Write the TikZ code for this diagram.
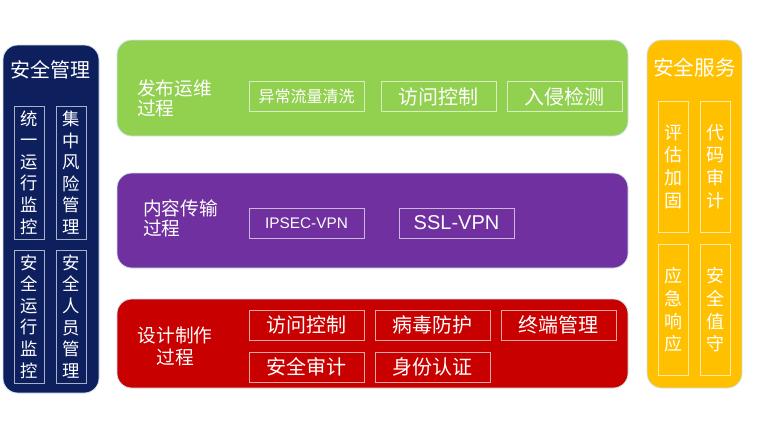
\documentclass[tikz,border=0pt]{standalone}
\usepackage{fontspec}
\setmainfont{Noto Sans CJK SC}
\newfontfamily\latinfont{Liberation Sans}

\definecolor{navy}{RGB}{14,31,94}
\definecolor{leaf}{RGB}{146,208,80}
\definecolor{plum}{RGB}{112,48,160}
\definecolor{brick}{RGB}{200,0,0}
\definecolor{gold}{RGB}{255,192,0}
\definecolor{rim}{RGB}{205,228,238}

\begin{document}
\begin{tikzpicture}[x=0.75pt,y=-0.75pt,
	panel/.style={rounded corners=11pt, draw=rim, line width=0.6pt},
	hcell/.style={draw=white, draw opacity=0.65, line width=0.6pt, text=white, minimum width=86.25pt, minimum height=22.5pt, inner sep=0pt},
	vcell/.style={draw=white, draw opacity=0.65, line width=0.6pt, text=white, minimum width=22.5pt, inner sep=0pt, align=center},
	title/.style={text=white, inner sep=0pt}]
		\useasboundingbox (0,0) rectangle (758,430);
		
		\fill[panel, fill=navy] (3,45) rectangle (99,393);  % 安全管理
		\node[title, font=\fontsize{15}{18}\selectfont] (mgmt) at (51,70) {安全管理};
		\node[vcell, minimum height=99.75pt, font=\fontsize{13}{16.2}\selectfont] (m1) at (29,172.5) {统\\一\\运\\行\\监\\控};
		\node[vcell, minimum height=99.75pt, font=\fontsize{13}{16.2}\selectfont] (m2) at (71.5,172.5) {集\\中\\风\\险\\管\\理};
		\node[vcell, minimum height=99.75pt, font=\fontsize{13}{16.2}\selectfont] (m3) at (29,316.5) {安\\全\\运\\行\\监\\控};
		\node[vcell, minimum height=99.75pt, font=\fontsize{13}{16.2}\selectfont] (m4) at (71.5,316.5) {安\\全\\人\\员\\管\\理};
		
		\fill[panel, fill=leaf] (117,40) rectangle (628,136);  % 发布运维
		\node[title, anchor=west, align=left, font=\fontsize{14}{15}\selectfont] (ops) at (137,98) {发布运维\\过程};
		\node[hcell, font=\fontsize{12}{14}\selectfont] (o1) at (306.5,96.5) {异常流量清洗};
		\node[hcell, font=\fontsize{15}{18}\selectfont] (o2) at (438.5,96.5) {访问控制};
		\node[hcell, font=\fontsize{15}{18}\selectfont] (o3) at (564.5,96.5) {入侵检测};
		
		\fill[panel, fill=plum] (117,173) rectangle (628,268);  % 内容传输
		\node[title, anchor=west, align=left, font=\fontsize{14}{15}\selectfont] (trans) at (143,218) {内容传输\\过程};
		\node[hcell, font=\latinfont\fontsize{11.5}{14}\selectfont] (t1) at (306.5,223) {IPSEC-VPN};
		\node[hcell, font=\latinfont\fontsize{15}{18}\selectfont] (t2) at (456.5,223) {SSL-VPN};
		
		\fill[panel, fill=brick] (117,299) rectangle (628,388);  % 设计制作
		\node[title, align=center, font=\fontsize{14}{16.5}\selectfont] (dev) at (175,346) {设计制作\\过程};
		\node[hcell, font=\fontsize{15}{18}\selectfont] (d1) at (306.5,325) {访问控制};
		\node[hcell, font=\fontsize{15}{18}\selectfont] (d2) at (432.5,325) {病毒防护};
		\node[hcell, font=\fontsize{15}{18}\selectfont] (d3) at (558.5,325) {终端管理};
		\node[hcell, font=\fontsize{15}{18}\selectfont] (d4) at (306.5,367) {安全审计};
		\node[hcell, font=\fontsize{15}{18}\selectfont] (d5) at (432.5,367) {身份认证};
		
		\fill[panel, fill=gold] (647,40) rectangle (742,388);  % 安全服务
		\node[title, font=\fontsize{15.5}{18}\selectfont] (serv) at (694.5,68) {安全服务};
		\node[vcell, minimum height=98.25pt, font=\fontsize{13.5}{17}\selectfont] (s1) at (673,166.5) {评\\估\\加\\固};
		\node[vcell, minimum height=98.25pt, font=\fontsize{13.5}{17}\selectfont] (s2) at (715.5,166.5) {代\\码\\审\\计};
		\node[vcell, minimum height=98.25pt, font=\fontsize{13.5}{17}\selectfont] (s3) at (673,310) {应\\急\\响\\应};
		\node[vcell, minimum height=98.25pt, font=\fontsize{13.5}{17}\selectfont] (s4) at (715.5,310) {安\\全\\值\\守};
		
	\end{tikzpicture}
\end{document}
